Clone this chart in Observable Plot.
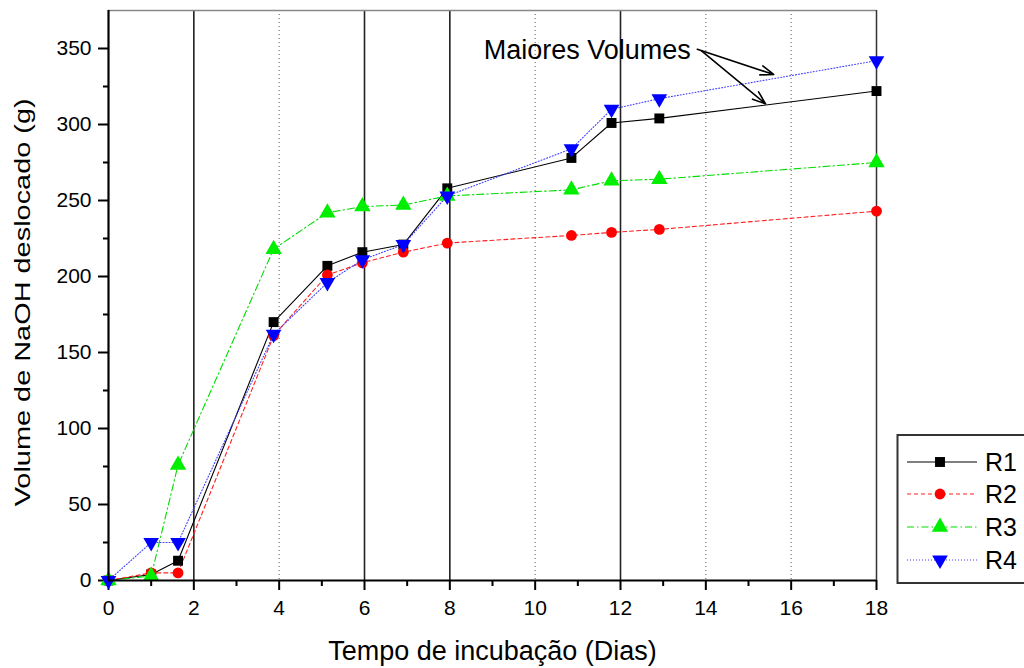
<!DOCTYPE html>
<html>
<head>
<meta charset="utf-8">
<script src="https://cdn.jsdelivr.net/npm/d3@7"></script>
<script src="https://cdn.jsdelivr.net/npm/@observablehq/plot@0.6"></script>
<style>
  html, body { margin: 0; padding: 0; background: white; }
  #wrap { position: relative; width: 1024px; height: 668px; overflow: hidden; font-family: "Liberation Sans", Arial, sans-serif; }
  #legend { position: absolute; left: 0; top: 0; }
</style>
</head>
<body>
<div id="wrap"></div>
<script>
// ---- data ----
const days = [0, 1, 1.63, 3.87, 5.13, 5.95, 6.91, 7.94, 10.85, 11.79, 12.91, 18];
const r1 = [0, 4, 13, 170, 207, 216, 221, 258, 278, 301, 304, 322];
const r2 = [0, 5, 5, 161, 201, 209, 216, 222, 227, 229, 231, 243];
const r3 = [0, 3, 76, 218, 242, 246, 247, 253, 257, 263, 264, 275];
const r4 = [0, 25, 25, 162, 196, 211, 221, 253, 284, 310, 317, 342];
const seriesNames = ["R1", "R2", "R3", "R4"];
const xTicks = [0, 2, 4, 6, 8, 10, 12, 14, 16, 18];
const xMinorTicks = [1, 3, 5, 7, 9, 11, 13, 15, 17];
const yTicks = [0, 50, 100, 150, 200, 250, 300, 350];
const yMinorTicks = [25, 75, 125, 175, 225, 275, 325];
const solidGrid = [2, 6, 8, 12];
const dottedGrid = [4, 10, 14, 16];
const xLabel = "Tempo de incubação (Dias)";
const yLabel = "Volume de NaOH deslocado (g)";
const noteText = "Maiores Volumes";

// ---- build table ----
const rows = days.map((d, i) => ({day: d, R1: r1[i], R2: r2[i], R3: r3[i], R4: r4[i]}));

const triangleDown = {
  draw(context, size) {
    const y = Math.sqrt(size / (3 * Math.sqrt(3)));
    const s3 = Math.sqrt(3);
    context.moveTo(0, 2 * y);
    context.lineTo(s3 * y, -y);
    context.lineTo(-s3 * y, -y);
    context.closePath();
  }
};

const styles = {
  R1: {color: "#000000", dash: null, symbol: "square", r: 5.6},
  R2: {color: "#ff0000", dash: "4,3", symbol: "circle", r: 5.4},
  R3: {color: "#00ee00", dash: "7,3,1.5,3", symbol: "triangle", r: 6.1},
  R4: {color: "#0000ff", dash: "1,2", symbol: triangleDown, r: 5.8}
};
const lineColors = {R1: "#000000", R2: "#ff2020", R3: "#00dd00", R4: "#4040ff"};

const arrowData = [
  {x1: 13.8, y1: 349.5, x2: 15.59, y2: 332.9},
  {x1: 13.9, y1: 348.5, x2: 15.40, y2: 313.6}
];

const marks = [
  Plot.ruleX(dottedGrid, {stroke: "#555", strokeDasharray: "1,3", strokeWidth: 1}),
  Plot.ruleX(solidGrid, {stroke: "#222", strokeWidth: 1.6}),
  Plot.ruleY([375], {stroke: "#888", strokeWidth: 1.5}),
  Plot.ruleX([18], {stroke: "#333", strokeWidth: 1.5}),
  Plot.axisX({ticks: xTicks, tickSize: 10, tickPadding: 10, fontSize: 21, strokeWidth: 2, label: null}),
  Plot.axisX({ticks: xMinorTicks, tickSize: 6, tickFormat: () => "", strokeWidth: 2, label: null}),
  Plot.axisY({ticks: yTicks, tickSize: 10, tickPadding: 7, fontSize: 21, strokeWidth: 2, label: null}),
  Plot.axisY({ticks: yMinorTicks, tickSize: 5, tickFormat: () => "", strokeWidth: 2, label: null}),
];

for (const s of seriesNames) {
  const st = styles[s];
  marks.push(Plot.line(rows, {x: "day", y: s, stroke: lineColors[s], strokeWidth: 1.1, strokeDasharray: st.dash}));
}
for (const s of seriesNames) {
  const st = styles[s];
  marks.push(Plot.dot(rows, {x: "day", y: s, symbol: st.symbol, r: st.r, fill: st.color, stroke: "none"}));
}

marks.push(
  Plot.ruleY([0], {stroke: "black", strokeWidth: 2.2}),
  Plot.ruleX([0], {stroke: "black", strokeWidth: 2.2}),
  Plot.arrow(arrowData, {x1: "x1", y1: "y1", x2: "x2", y2: "y2", stroke: "black", strokeWidth: 1.6, headLength: 13, headAngle: 40}),
  Plot.text([noteText], {x: 11.22, y: 349, fontSize: 27, fill: "black", textAnchor: "middle", lineAnchor: "middle"}),
  Plot.text([xLabel], {x: 9, y: 0, dy: 71, fontSize: 27, fill: "black", textAnchor: "middle", lineAnchor: "middle"}),
  Plot.text([yLabel], {x: 0, y: 183, dx: -86, rotate: -90, fontSize: 22, fill: "black", textAnchor: "middle", lineAnchor: "middle"})
);

const chart = Plot.plot({
  width: 1024,
  height: 668,
  marginLeft: 108,
  marginRight: 148,
  marginTop: 10,
  marginBottom: 88,
  x: {domain: [0, 18]},
  y: {domain: [0, 375]},
  style: {fontFamily: "'Liberation Sans', Arial, sans-serif", background: "white", color: "black", overflow: "visible"},
  marks
});

d3.select(chart).selectAll("text")
  .filter(function() { return this.textContent === yLabel; })
  .attr("textLength", 408)
  .attr("lengthAdjust", "spacingAndGlyphs");

const wrap = document.getElementById("wrap");
wrap.appendChild(chart);

// ---- legend overlay ----
const legend = d3.create("svg")
  .attr("id", "legend")
  .attr("width", 1024)
  .attr("height", 668)
  .style("font-family", "'Liberation Sans', Arial, sans-serif");
legend.append("rect")
  .attr("x", 897.5).attr("y", 435)
  .attr("width", 140).attr("height", 148)
  .attr("fill", "white").attr("stroke", "#333").attr("stroke-width", 2);
const legendY = [462, 494, 527, 560];
seriesNames.forEach((s, i) => {
  const st = styles[s];
  const y = legendY[i];
  legend.append("line")
    .attr("x1", 907).attr("x2", 977).attr("y1", y).attr("y2", y)
    .attr("stroke", lineColors[s]).attr("stroke-width", 1.1)
    .attr("stroke-dasharray", st.dash);
  const sym = typeof st.symbol === "string"
    ? {square: d3.symbolSquare, circle: d3.symbolCircle, triangle: d3.symbolTriangle}[st.symbol]
    : st.symbol;
  legend.append("path")
    .attr("transform", `translate(940,${y})`)
    .attr("d", d3.symbol(sym, Math.PI * st.r * st.r)())
    .attr("fill", st.color);
  legend.append("text")
    .attr("x", 985).attr("y", y)
    .attr("dy", "0.36em")
    .attr("font-size", 25)
    .attr("fill", "black")
    .text(s);
});
wrap.appendChild(legend.node());
</script>
</body>
</html>
